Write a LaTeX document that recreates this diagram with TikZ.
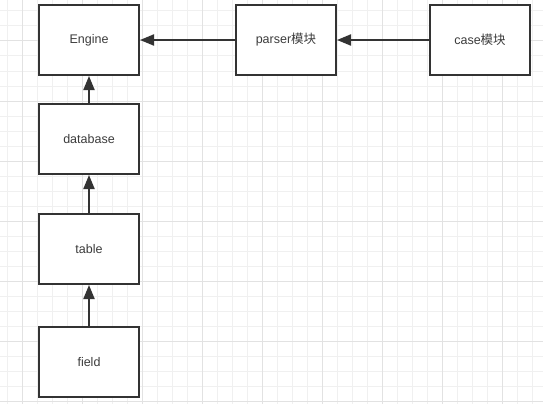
\documentclass[tikz,border=0pt]{standalone}
\usepackage{fontspec}
\setmainfont{Liberation Sans}
\newfontfamily\cjk{Noto Sans CJK SC}
\usetikzlibrary{arrows.meta}
\definecolor{linegray}{HTML}{333333}
\definecolor{textgray}{HTML}{3C3C3C}
\definecolor{minorgrid}{HTML}{F0F0F0}
\definecolor{majorgrid}{HTML}{E2E2E2}
\tikzset{
	box/.style={draw=linegray,line width=2pt,fill=white,minimum width=100pt,minimum height=70pt,text=textgray,font=\fontsize{12.5}{15}\selectfont},
	link/.style={draw=linegray,line width=2pt,-{Triangle[length=14pt,width=11pt]}}
}
\begin{document}
\begin{tikzpicture}[x=1pt,y=-1pt]
	\useasboundingbox[fill=white] (0,0) rectangle (543,404);
	% grid
	\foreach \gx in {7,22,...,532} \draw[minorgrid,line width=1pt] (\gx,0) -- (\gx,404);
	\foreach \gy in {11,26,...,401} \draw[minorgrid,line width=1pt] (0,\gy) -- (543,\gy);
	\foreach \gx in {22,82,...,502} \draw[majorgrid,line width=1pt] (\gx,0) -- (\gx,404);
	\foreach \gy in {41,101,...,401} \draw[majorgrid,line width=1pt] (0,\gy) -- (543,\gy);
	% boxes
	\node[box] at (89,40) (engine) {Engine};
	\node[box] at (286,40) (parser) {parser{\cjk 模块}};
	\node[box] at (480,40) (case) {case{\cjk 模块}};
	\node[box] at (89,139) (database) {database};
	\node[box] at (89,249) (table) {table};
	\node[box] at (89,362) (field) {field};
	% arrows
	\path (parser) edge[link] (engine)
	(case) edge[link] (parser)
	(database) edge[link] (engine)
	(table) edge[link] (database)
	(field) edge[link] (table);
\end{tikzpicture}
\end{document}
